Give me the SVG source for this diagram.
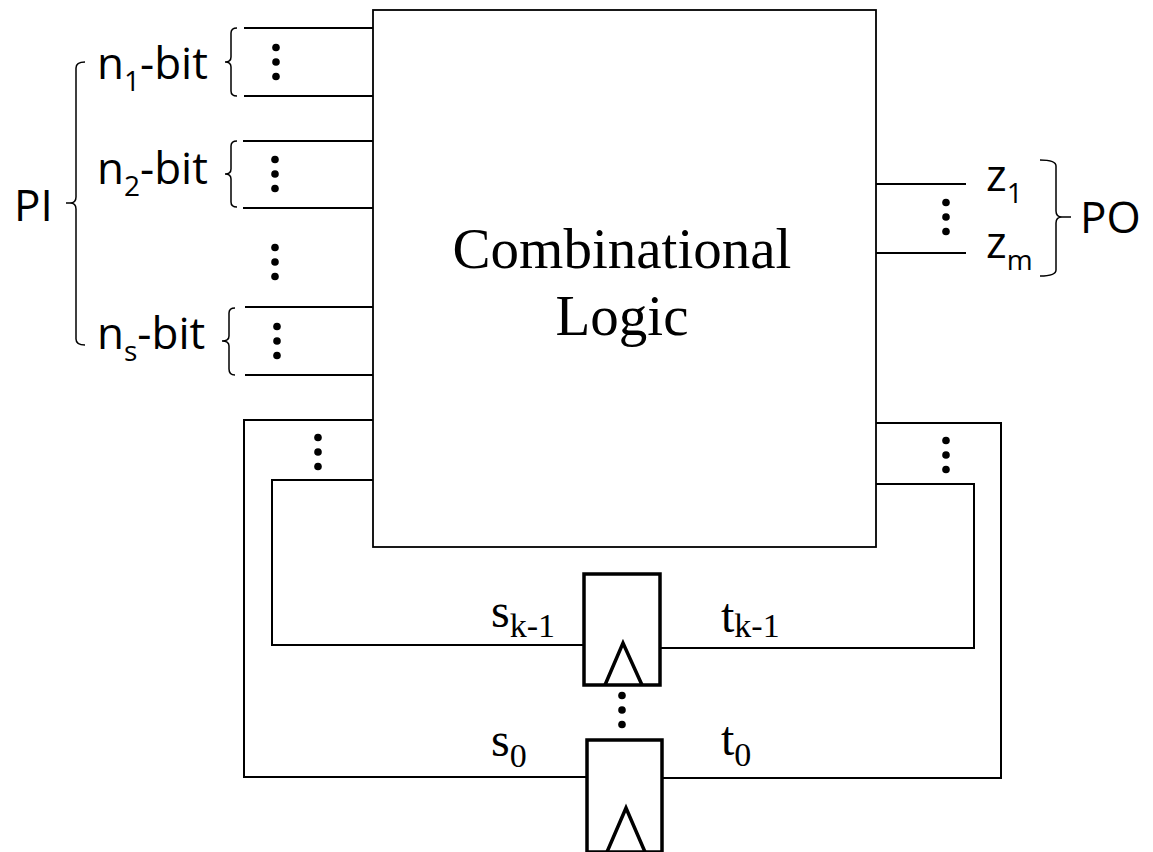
<svg xmlns="http://www.w3.org/2000/svg" width="1153" height="852" viewBox="0 0 1153 852">
<style>
.w{fill:none;stroke:#000;stroke-width:2}
.br{fill:none;stroke:#000;stroke-width:1.5}
.ff{fill:#fff;stroke:#000;stroke-width:3.5}
.d{fill:#000}
.sans{font-family:"Open Sans","Noto Sans","Liberation Sans",sans-serif;font-size:44px;fill:#000}
.sub{font-size:28px}
.serif{font-family:"Liberation Serif","DejaVu Serif",serif;fill:#000}
</style>
<defs>
<g id="dots"><circle cx="0" cy="-14.5" r="3.8"/><circle cx="0" cy="0" r="3.8"/><circle cx="0" cy="14.5" r="3.8"/></g>
</defs>
<rect width="1153" height="852" fill="#fff"/>

<g id="comb-logic">
<rect x="373" y="10" width="503" height="537" fill="#fff" stroke="#000" stroke-width="1.8"/>
<text class="serif" font-size="57" x="622" y="268" text-anchor="middle">Combinational</text>
<text class="serif" font-size="57" x="622" y="335" text-anchor="middle">Logic</text>
</g>

<g id="connectors">
<path class="w" d="M244 28H373M244 96H373M243 141H373M243 208H373M245 307H373M245 375H373"/>
<path class="w" d="M876 184H966M876 253H966"/>
<path class="w" d="M373 420H244V777H587"/>
<path class="w" d="M373 480H272V645H584"/>
<path class="w" d="M876 423H1001V778H662"/>
<path class="w" d="M876 484H974V648H660"/>
</g>

<g id="pi-input">
<text class="sans" x="14" y="221" font-size="42">PI</text>
<path class="br" d="M85 62Q76 62 76 68V197Q76 203 70 203H66M70 203Q76 203 76 209V339Q76 345 85 345"/>
</g>

<g id="n1-input">
<text class="sans" x="97" y="79">n<tspan class="sub" dy="12">1</tspan><tspan dy="-12">-bit</tspan></text>
<path class="br" d="M237 28Q231 28 231 33V57Q231 62 225 62M225 62Q231 62 231 67V91Q231 96 237 96"/>
<use href="#dots" x="276" y="62" class="d"/>
</g>

<g id="n2-input">
<text class="sans" x="97" y="184">n<tspan class="sub" dy="12">2</tspan><tspan dy="-12">-bit</tspan></text>
<path class="br" d="M237 141Q231 141 231 146V169Q231 174 225 174M225 174Q231 174 231 179V202Q231 207 237 207"/>
<use href="#dots" x="275" y="174" class="d"/>
</g>

<g id="mid-dots">
<use href="#dots" x="275" y="262" class="d"/>
</g>

<g id="ns-input">
<text class="sans" x="97" y="349">n<tspan class="sub" dy="12">s</tspan><tspan dy="-12">-bit</tspan></text>
<path class="br" d="M235 308Q229 308 229 313V336Q229 341 222 341M222 341Q229 341 229 346V369Q229 375 235 375"/>
<use href="#dots" x="277" y="341" class="d"/>
</g>

<g id="po-output">
<use href="#dots" x="946" y="217" class="d"/>
<text class="sans" x="986" y="191" font-size="42">z<tspan class="sub" dy="12">1</tspan></text>
<text class="sans" x="986" y="258" font-size="42">z<tspan class="sub" dy="12">m</tspan></text>
<path class="br" d="M1040 160Q1056 160 1056 166V211Q1056 217 1062 217H1071M1062 217Q1056 217 1056 223V270Q1056 276 1040 276"/>
<text class="sans" x="1080" y="233" font-size="43">PO</text>
</g>

<g id="state-dots">
<use href="#dots" x="318" y="452" class="d"/>
<use href="#dots" x="946" y="455" class="d"/>
</g>

<g id="ff-k-1">
<rect class="ff" x="584" y="574" width="76" height="111"/>
<path d="M605 685L623 643L642 685" fill="none" stroke="#000" stroke-width="3.5"/>
<text class="serif" font-size="48" x="491" y="627">s<tspan font-size="34" dy="10">k-1</tspan></text>
<text class="serif" font-size="48" x="721" y="632">t<tspan font-size="34" dy="5">k-1</tspan></text>
</g>

<g id="ff-dots">
<use href="#dots" x="622" y="710" class="d"/>
</g>

<g id="ff-0">
<rect class="ff" x="587" y="740" width="75" height="112"/>
<path d="M607 852L626 808L645 852" fill="none" stroke="#000" stroke-width="3.5"/>
<text class="serif" font-size="48" x="491" y="756">s<tspan font-size="34" dy="11">0</tspan></text>
<text class="serif" font-size="48" x="721" y="755">t<tspan font-size="34" dy="11">0</tspan></text>
</g>
</svg>
